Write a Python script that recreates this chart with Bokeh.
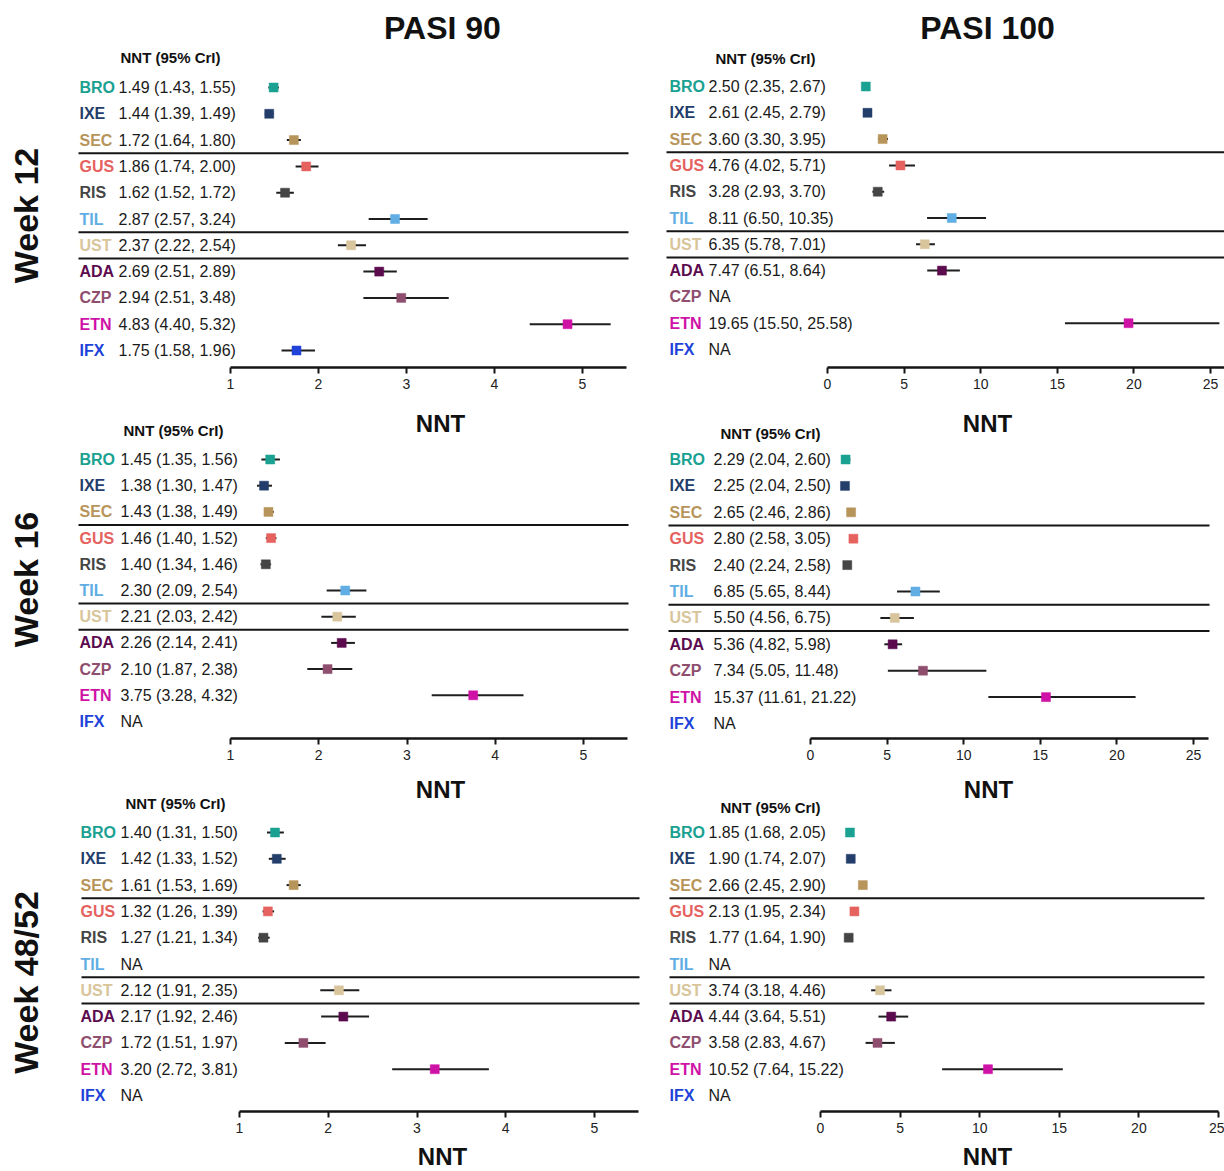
import math
import numpy as np
from bokeh.plotting import figure
from bokeh.models import Range1d, LinearAxis, FixedTicker, ColumnDataSource
from bokeh.core.properties import value
from bokeh.embed import file_html
from bokeh.resources import INLINE

# ---------------- data ----------------
drugs = ["BRO", "IXE", "SEC", "GUS", "RIS", "TIL", "UST", "ADA", "CZP", "ETN", "IFX"]
drug_class = ["IL-17", "IL-17", "IL-17", "IL-23", "IL-23", "IL-23", "IL-12/23",
              "TNF", "TNF", "TNF", "TNF"]

weeks = ["Week 12", "Week 16", "Week 48/52"]
outcomes = ["PASI 90", "PASI 100"]
header_text = "NNT (95% CrI)"
axis_title = "NNT"

p90_ticks = [1, 2, 3, 4, 5]
p100_ticks = [0, 5, 10, 15, 20, 25]

w12_p90_nnt = [1.49, 1.44, 1.72, 1.86, 1.62, 2.87, 2.37, 2.69, 2.94, 4.83, 1.75]
w12_p90_lo = [1.43, 1.39, 1.64, 1.74, 1.52, 2.57, 2.22, 2.51, 2.51, 4.40, 1.58]
w12_p90_hi = [1.55, 1.49, 1.80, 2.00, 1.72, 3.24, 2.54, 2.89, 3.48, 5.32, 1.96]

w12_p100_nnt = [2.50, 2.61, 3.60, 4.76, 3.28, 8.11, 6.35, 7.47, None, 19.65, None]
w12_p100_lo = [2.35, 2.45, 3.30, 4.02, 2.93, 6.50, 5.78, 6.51, None, 15.50, None]
w12_p100_hi = [2.67, 2.79, 3.95, 5.71, 3.70, 10.35, 7.01, 8.64, None, 25.58, None]

w16_p90_nnt = [1.45, 1.38, 1.43, 1.46, 1.40, 2.30, 2.21, 2.26, 2.10, 3.75, None]
w16_p90_lo = [1.35, 1.30, 1.38, 1.40, 1.34, 2.09, 2.03, 2.14, 1.87, 3.28, None]
w16_p90_hi = [1.56, 1.47, 1.49, 1.52, 1.46, 2.54, 2.42, 2.41, 2.38, 4.32, None]

w16_p100_nnt = [2.29, 2.25, 2.65, 2.80, 2.40, 6.85, 5.50, 5.36, 7.34, 15.37, None]
w16_p100_lo = [2.04, 2.04, 2.46, 2.58, 2.24, 5.65, 4.56, 4.82, 5.05, 11.61, None]
w16_p100_hi = [2.60, 2.50, 2.86, 3.05, 2.58, 8.44, 6.75, 5.98, 11.48, 21.22, None]

w48_p90_nnt = [1.40, 1.42, 1.61, 1.32, 1.27, None, 2.12, 2.17, 1.72, 3.20, None]
w48_p90_lo = [1.31, 1.33, 1.53, 1.26, 1.21, None, 1.91, 1.92, 1.51, 2.72, None]
w48_p90_hi = [1.50, 1.52, 1.69, 1.39, 1.34, None, 2.35, 2.46, 1.97, 3.81, None]

w48_p100_nnt = [1.85, 1.90, 2.66, 2.13, 1.77, None, 3.74, 4.44, 3.58, 10.52, None]
w48_p100_lo = [1.68, 1.74, 2.45, 1.95, 1.64, None, 3.18, 3.64, 2.83, 7.64, None]
w48_p100_hi = [2.05, 2.07, 2.90, 2.34, 1.90, None, 4.46, 5.51, 4.67, 15.22, None]

series = [
    [(w12_p90_nnt, w12_p90_lo, w12_p90_hi), (w12_p100_nnt, w12_p100_lo, w12_p100_hi)],
    [(w16_p90_nnt, w16_p90_lo, w16_p90_hi), (w16_p100_nnt, w16_p100_lo, w16_p100_hi)],
    [(w48_p90_nnt, w48_p90_lo, w48_p90_hi), (w48_p100_nnt, w48_p100_lo, w48_p100_hi)],
]
ticks_for = [p90_ticks, p100_ticks]

# ---------------- styles / layout ----------------
DRUG_COLORS = {
    "BRO": "#1aa192", "IXE": "#243e6b", "SEC": "#b7955a", "GUS": "#e5625f",
    "RIS": "#454545", "TIL": "#60aee3", "UST": "#d8c59b", "ADA": "#5c0b4f",
    "CZP": "#8f4e6e", "ETN": "#cf12a6", "IFX": "#2142d9",
}
FONT = value("Liberation Sans")
INK = "#151515"

W, H = 1224, 1171
OX, OY = 0, 0  # page offset of the canvas

# page-pixel layout for each panel (row, col)
LAYOUT = {
    (0, 0): dict(rows=(87, 350), xmap=((1, 230), (5, 582)), bounds=(1, 5.5), axis_y=367,
                 label_x=79, value_x=118, header=(120, 57), sep=(78, 628), title=(440, 423)),
    (0, 1): dict(rows=(86, 349), xmap=((0, 827), (25, 1210)), bounds=(0, 26), axis_y=367,
                 label_x=669, value_x=708, header=(715, 58), sep=(666, 1224), title=(987, 423)),
    (1, 0): dict(rows=(459, 721), xmap=((1, 230), (5, 583)), bounds=(1, 5.5), axis_y=738,
                 label_x=79, value_x=120, header=(123, 430), sep=(78, 628), title=(440, 789)),
    (1, 1): dict(rows=(459, 723), xmap=((0, 810), (25, 1193)), bounds=(0, 26), axis_y=738,
                 label_x=669, value_x=713, header=(720, 433), sep=(668, 1209), title=(988, 789)),
    (2, 0): dict(rows=(832, 1095), xmap=((1, 239), (5, 594)), bounds=(1, 5.5), axis_y=1111,
                 label_x=80, value_x=120, header=(125, 803), sep=(81, 639), title=(442, 1156)),
    (2, 1): dict(rows=(832, 1095), xmap=((0, 820), (25, 1218)), bounds=(0, 25), axis_y=1111,
                 label_x=669, value_x=708, header=(720, 807), sep=(669, 1204), title=(987, 1156)),
}
COL_TITLES = [(442, 27), (987, 27)]
ROW_TITLES = [(25, 215), (25, 579), (25, 982)]

p = figure(width=W, height=H, x_range=Range1d(0, W), y_range=Range1d(H, 0),
           x_axis_type=None, y_axis_type=None, output_backend="svg",
           toolbar_location=None, min_border=0, min_border_left=0,
           min_border_right=0, min_border_top=0, min_border_bottom=0)
p.outline_line_color = None
p.background_fill_color = "white"
p.border_fill_color = "white"

rows = np.arange(len(drugs), dtype=float)
bounds_rows = [i + 0.5 for i in range(len(drugs) - 1) if drug_class[i] != drug_class[i + 1]]
colors = [DRUG_COLORS[d] for d in drugs]


def fmt(n, lo, hi):
    return "NA" if n is None else f"{n:.2f} ({lo:.2f}, {hi:.2f})"


xr, yr, geo = {}, {}, {}
for (r, c), L in LAYOUT.items():
    q0, q10 = L["rows"]
    s = (q10 - q0) / (len(drugs) - 1)
    c0 = q0 - OY
    yname, xname = f"y{r}{c}", f"x{r}{c}"
    yr[yname] = Range1d(start=(H - c0) / s, end=-c0 / s)
    (va, pa), (vb, pb) = L["xmap"]
    kx = (pb - pa) / (vb - va)
    ca = pa - OX
    xr[xname] = Range1d(start=va - ca / kx, end=va + (W - ca) / kx)
    geo[(r, c)] = (xname, yname, q0, s)
p.extra_x_ranges = xr
p.extra_y_ranges = yr

for (r, c), L in LAYOUT.items():
    xname, yname, q0, s = geo[(r, c)]
    nnt, lo, hi = series[r][c]

    # group separators
    sx0, sx1 = L["sep"][0] - OX, L["sep"][1] - OX
    p.segment(x0=[sx0] * len(bounds_rows), x1=[sx1] * len(bounds_rows),
              y0=bounds_rows, y1=bounds_rows, y_range_name=yname,
              line_color=INK, line_width=2)

    # drug labels
    p.text(x=[L["label_x"] - OX] * len(drugs), y=rows, text=drugs, text_color=colors,
           y_range_name=yname, text_font=FONT, text_font_size="16px",
           text_font_style="bold", text_align="left", text_baseline="middle")
    # values
    p.text(x=[L["value_x"] - OX] * len(drugs), y=rows,
           text=[fmt(n, a, b) for n, a, b in zip(nnt, lo, hi)],
           y_range_name=yname, text_font=FONT, text_font_size="16px",
           text_color="#1a1a1a", text_align="left", text_baseline="middle")
    # header
    hx, hy = L["header"]
    p.text(x=[hx - OX], y=[hy - OY], text=[header_text], text_font=FONT,
           text_font_size="15px", text_font_style="bold", text_color="#111111",
           text_align="left", text_baseline="middle")
    # axis title
    tx, ty = L["title"]
    p.text(x=[tx - OX], y=[ty - OY], text=[axis_title], text_font=FONT,
           text_font_size="24px", text_font_style="bold", text_color="#111111",
           text_align="center", text_baseline="middle")

    # forest marks
    idx = [i for i, n in enumerate(nnt) if n is not None]
    src = ColumnDataSource(dict(
        y=[rows[i] for i in idx], nnt=[nnt[i] for i in idx],
        lo=[lo[i] for i in idx], hi=[hi[i] for i in idx],
        color=[colors[i] for i in idx]))
    p.segment(x0="lo", x1="hi", y0="y", y1="y", source=src,
              x_range_name=xname, y_range_name=yname, line_color="#1e1e1e", line_width=2)
    p.scatter(x="nnt", y="y", source=src, marker="square", size=9,
              fill_color="color", line_color="color", line_width=0.5,
              x_range_name=xname, y_range_name=yname)

    # axis
    ax = LinearAxis(x_range_name=xname, y_range_name=yname,
                    fixed_location=(L["axis_y"] - q0) / s, bounds=L["bounds"],
                    ticker=FixedTicker(ticks=ticks_for[c], minor_ticks=[]))
    ax.axis_line_width = 2.5
    ax.axis_line_color = INK
    ax.major_tick_in = 0
    ax.major_tick_out = 6
    ax.major_tick_line_width = 2
    ax.major_tick_line_color = INK
    ax.minor_tick_in = 0
    ax.minor_tick_out = 0
    ax.major_label_text_font = "Liberation Sans"
    ax.major_label_text_font_size = "14px"
    ax.major_label_text_color = "#222222"
    ax.major_label_standoff = 5
    p.add_layout(ax, "below")

# column titles
p.text(x=[x - OX for x, _ in COL_TITLES], y=[y - OY for _, y in COL_TITLES], text=outcomes,
       text_font=FONT, text_font_size="32px", text_font_style="bold", text_color="#111111",
       text_align="center", text_baseline="middle")
# row titles
p.text(x=[x - OX for x, _ in ROW_TITLES], y=[y - OY for _, y in ROW_TITLES], text=weeks,
       angle=math.pi / 2, text_font=FONT, text_font_size="34px", text_font_style="bold",
       text_color="#111111", text_align="center", text_baseline="middle")

open("out.html", "w").write(file_html(p, INLINE))
